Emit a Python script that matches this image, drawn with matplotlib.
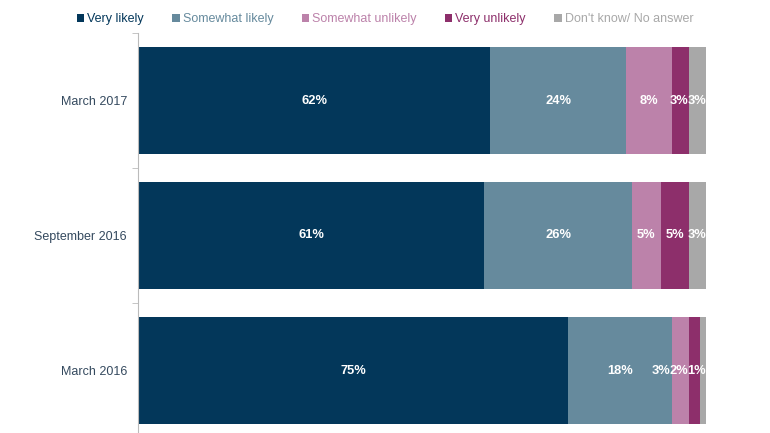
import numpy as np
import matplotlib
matplotlib.use("Agg")
from matplotlib import pyplot as plt

periods = ["March 2017", "September 2016", "March 2016"]
answers = ["Very likely", "Somewhat likely", "Somewhat unlikely", "Very unlikely", "Don't know/ No answer"]
colors = ["#03375a", "#668a9d", "#bc82aa", "#8d2f6b", "#a8a8a8"]

# percentages per period, same order as answers
very_likely = [62, 61, 75]
somewhat_likely = [24, 26, 18]
somewhat_unlikely = [8, 5, 3]
very_unlikely = [3, 5, 2]
dont_know = [3, 3, 1]

values = np.array([very_likely, somewhat_likely, somewhat_unlikely, very_unlikely, dont_know], dtype=float)
# bars are scaled so each row fills 100%
shares = values / values.sum(axis=0) * 100

plt.rcParams['font.family'] = ['Liberation Sans', 'DejaVu Sans']

fig = plt.figure(figsize=(7.7, 4.33), dpi=100)
ax = fig.add_axes([138 / 770, -5 / 433, 568 / 770, 405 / 433])

y = np.arange(len(periods))
left = np.zeros(len(periods))
label_w = 3.2
label_pos = np.zeros_like(shares)
for i, name in enumerate(answers):
    ax.barh(y, shares[i], left=left, height=0.79, color=colors[i], label=name)
    label_pos[i] = left + shares[i] / 2
    left = left + shares[i]

# push crowded labels to the left so they don't run over each other
for j in range(len(periods)):
    limit = 100.0
    for i in range(len(answers) - 1, -1, -1):
        x = min(label_pos[i, j], limit - label_w / 2)
        label_pos[i, j] = x
        limit = x - label_w / 2

for i in range(len(answers)):
    for j in range(len(periods)):
        ax.text(label_pos[i, j], y[j], f"{int(values[i, j])}%", ha="center", va="center",
                color="white", fontsize=9.3, fontweight="bold")

ax.set_xlim(0, 100)
ax.set_ylim(2.5, -0.5)
ax.set_yticks(y)
ax.set_yticklabels(periods, fontsize=9, color="#34495e")
ax.set_yticks([-0.5, 0.5, 1.5, 2.5], minor=True)
ax.tick_params(axis="y", which="major", length=0, pad=8)
ax.tick_params(axis="y", which="minor", length=4, color="#bbbbbb", direction="out")
ax.set_xticks([])
for side in ["top", "right", "bottom"]:
    ax.spines[side].set_visible(False)
ax.spines["left"].set_color("#bbbbbb")

leg = fig.legend(loc="upper center", bbox_to_anchor=(0.5, 0.995), ncol=5, frameon=False,
                 fontsize=9, handlelength=0.6, handleheight=0.6, handletextpad=0.25,
                 columnspacing=2.25)
for txt, c in zip(leg.get_texts(), colors):
    txt.set_color(c)

plt.savefig("out.png", dpi=100)
plt.close()
